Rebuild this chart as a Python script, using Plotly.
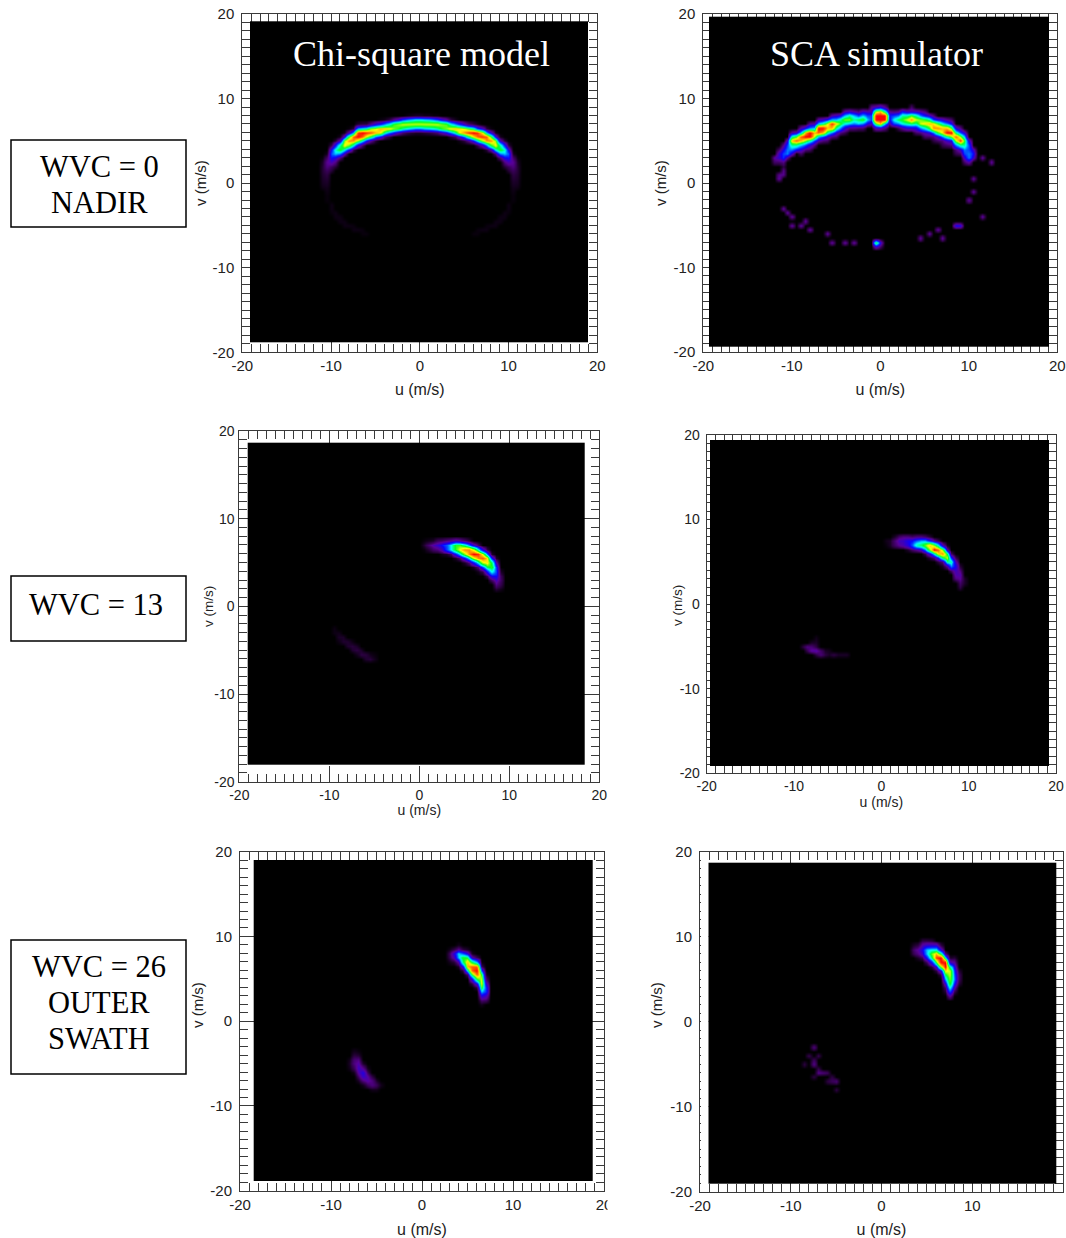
import numpy as np
import plotly.graph_objects as go

# ---------- data: (u, lowest v of the column, intensities going up in 0.5 m/s steps) ----------
TICK_VALUES = [-20, -10, 0, 10, 20]
TICK_LABELS = ["-20", "-10", "0", "10", "20"]
U_TITLE = "u (m/s)"
V_TITLE = "v (m/s)"

CHI_WVC0 = [
    (-11, -.5, [.15, .25, .3, .35, .4, .4, .3, .1]),
    (-10.5, -2, [.1, .1, .15, .2, .3, .4, .5, .7, 1, 1.2, .8, .2]),
    (-10, 1.5, [.4, .7, 1.5, 2.5, 3.2, 2.5, .6]),
    (-9.5, 2, [.4, 1, 2, 4, 4.8, 2.5, .4]),
    (-9, 3, [1, 3.5, 6, 5, 1.5, .2]),
    (-8.5, 3.5, [1.5, 4.5, 7.5, 6.5, 2, .2]),
    (-8, 4, [2.5, 6.5, 8.5, 6, 1.5, .1]),
    (-7.5, 4, [.6, 4.5, 8.5, 9, 4, .5]),
    (-7, 4.5, [2, 6.5, 10, 9.5, 4, .4]),
    (-6.5, 4.5, [.8, 4.5, 9, 10, 4.5, .5]),
    (-6, 5, [2.5, 7, 9.5, 5, .5]),
    (-5.5, 5, [1.2, 5.5, 9, 6.5, 1.2]),
    (-5, 5, [.4, 3.5, 8, 7, 2]),
    (-4.5, 5.5, [2.5, 7.5, 8, 2.5, .1]),
    (-4, 5.5, [1, 5, 8, 3.5, .2]),
    (-3.5, 5.5, [.5, 3.5, 7.5, 4.5, .5]),
    (-3, 6, [2.5, 6.5, 6, 1.2]),
    (-2.5, 6, [1.5, 6, 6.5, 1.8]),
    (-2, 6, [.9, 5, 7, 3]),
    (-1.5, 6, [.6, 4.5, 7, 3.5, .1]),
    (-1, 6, [.4, 4, 7, 4, .2]),
    (-.5, 6, [.3, 3.5, 7, 4.5, .3]),
    (0, 6, [.3, 3.5, 7, 4.5, .3]),
    (.5, 6, [.4, 4, 7, 4.2, .2]),
    (1, 6, [.5, 4.2, 7, 4, .2]),
    (1.5, 6, [.7, 4.5, 7, 3.5, .1]),
    (2, 6, [.9, 5, 7, 3, .1]),
    (2.5, 6, [1.5, 6, 6.5, 2]),
    (3, 6, [2.2, 6.5, 6.2, 1.4]),
    (3.5, 5.5, [.4, 3.5, 7.5, 4.5, .5]),
    (4, 5.5, [.8, 5, 8, 3.5, .2]),
    (4.5, 5, [.2, 2, 7.5, 7.5, 2.5]),
    (5, 5, [.5, 3.5, 8.5, 7, 1.5]),
    (5.5, 5, [1.2, 5.5, 9.5, 6, .8]),
    (6, 5, [2.5, 7.5, 10, 5, .5]),
    (6.5, 4.5, [.6, 4.5, 9, 9.5, 3, .2]),
    (7, 4.5, [1.5, 6.5, 9.5, 7.5, 2]),
    (7.5, 4, [.4, 3.5, 8.5, 9, 4, .5]),
    (8, 4, [1.5, 6, 8.5, 6, 1.8, .1]),
    (8.5, 3.5, [1, 4.5, 7.5, 6.5, 2, .2]),
    (9, 3, [1, 3.5, 6, 5, 1.5, .2]),
    (9.5, 2, [.4, 1, 2.2, 4, 4.8, 2.5, .4]),
    (10, 1.5, [.4, .7, 1.5, 2.5, 3.2, 2, .4]),
    (10.5, -2, [.1, .1, .15, .2, .3, .4, .5, .7, 1, 1.2, .8, .2]),
    (11, -.5, [.15, .25, .3, .35, .4, .4, .3, .1]),
    (-10, -3.5, [.1, .15, .15]), (-9.5, -4, [.15, .15]), (-9, -4.5, [.15, .15]),
    (-8.5, -5, [.15, .15]), (-8, -5, [.15]), (-7.5, -5.5, [.15, .1]),
    (-7, -5.5, [.15]), (-6.5, -6, [.1, .1]), (-6, -6, [.1]),
    (10, -3.5, [.1, .15, .15]), (9.5, -4, [.15, .15]), (9, -4.5, [.15, .15]),
    (8.5, -5, [.15, .15]), (8, -5, [.15]), (7.5, -5.5, [.15, .1]),
    (7, -5.5, [.15]), (6.5, -6, [.1, .1]), (6, -6, [.1]),
]

SCA_WVC0 = [
    (-1.5, 7, [2, 4, 3, 1.5]),
    (-1, 7, [1.5, 3, 3, 1.5, 1.2]),
    (-.5, 6.5, [1.5, 6, 10, 10, 7, 1.5]),
    (0, 6.5, [1.5, 8, 10, 10, 8, 2]),
    (.5, 6.5, [1, 4, 10, 10, 5, 1.2]),
    (1, 7, [1.2, 2, 2.5, 1.2]),
    (-12, 2.5, [.8, 1.3]),
    (-11.5, .5, [1.3, 1.1, 0, 0, .8, 1.8, 1.8, .8]),
    (-11, 1, [1.1, 1.1, .5, 1, 2.8, 3, 2.2, 1.2]),
    (-10.5, 3, [1.2, 3.5, 3.5, 3, 1.8]),
    (-10, 3.5, [1.8, 3.5, 5, 8, 5, 1.4]),
    (-9.5, 4, [2.5, 5, 9, 6, 1.8]),
    (-9, 3.5, [.8, 1.8, 4, 8, 9, 4, 1.4]),
    (-8.5, 4, [1, 3, 6.5, 10, 8, 2.2]),
    (-8, 4, [.8, 1.8, 5, 10, 10, 3.5, 1.2]),
    (-7.5, 4.5, [1, 3, 7, 8, 4, 1.4]),
    (-7, 5, [1.5, 4, 9, 10, 4, 1.4]),
    (-6.5, 5, [1, 3, 8, 10, 5, 1.8]),
    (-6, 5, [.8, 1.8, 5, 8, 7, 2.5]),
    (-5.5, 5.5, [1, 3.5, 8, 9.5, 4, 1.4]),
    (-5, 5.5, [.8, 1.8, 5, 7.5, 4, 1.8]),
    (-4.5, 6, [1, 3.5, 6, 5, 2.2]),
    (-4, 6, [.6, 1.8, 4.5, 6.5, 4, 1.5]),
    (-3.5, 6.5, [1, 4, 6.5, 5, 1.8]),
    (-3, 6.5, [1, 3.5, 5, 4, 1.4]),
    (-2.5, 6.5, [.8, 4, 5.5, 3, 1]),
    (-2, 6.5, [.8, 3.5, 6, 4, 1.8]),
    (1.5, 7, [3, 4.5, 3, 1]),
    (2, 6.5, [.6, 3.5, 5.5, 3.5, 1.2]),
    (2.5, 6.5, [1.2, 4.5, 6, 5, 2.5]),
    (3, 6.5, [1.8, 5, 7, 5, 1.8]),
    (3.5, 6.5, [1.8, 5.5, 8.5, 6, 1.8, .8]),
    (4, 6, [.8, 2, 5, 7, 5, 1.8]),
    (4.5, 6, [1, 3.5, 7, 6.5, 3.5, 1.4]),
    (5, 5.5, [.8, 1.5, 4.5, 7.5, 6, 2.5, 1]),
    (5.5, 5.5, [.8, 2, 6, 8, 5, 1.8]),
    (6, 5, [.5, 1, 3.5, 8.5, 7.5, 3, 1]),
    (6.5, 5, [.8, 1.8, 6, 8.5, 6, 2.2]),
    (7, 4.5, [.6, 1, 3.5, 7.5, 8, 4.5, 1.8]),
    (7.5, 4.5, [.8, 1.8, 5, 10, 8, 3.5, 1.2]),
    (8, 4.5, [1, 2.2, 6.5, 10, 6, 2.2, .8]),
    (8.5, 3.5, [.6, 1, 3.5, 7, 9, 5, 1.8]),
    (9, 3.5, [.8, 1.8, 5, 9.5, 6.5, 3, 1]),
    (9.5, 2.5, [.8, 1.8, 3, 3.5, 5, 6, 4, 1.8]),
    (10, 2.5, [1.4, 3.5, 3.5, 3, 3, 1.8]),
    (10.5, 3, [1.8, 2.4, 1.6]),
    (11.5, 3, [1.3]), (12.5, 2.5, [1.3]), (10.5, .5, [1.3]), (10.5, -1, [1.3]),
    (10, -2, [1.3]), (11.5, -4, [1.3]), (8.5, -5, [2.3]), (9, -5, [2.1]),
    (6.5, -5.5, [1.3]), (7, -6.5, [1.3]), (5.5, -6, [1.3]), (4.5, -6.5, [1.3]),
    (-11, -3, [1.3]), (-10.5, -3.5, [1.3]), (-10, -4, [1.3]), (-10, -5, [1.3]),
    (-9, -5, [1.3]), (-8.5, -4.5, [1.3]), (-8, -5.5, [1.3]), (-6, -6, [1.3]),
    (-5.5, -7, [1.3]), (-4, -7, [1.3]), (-3, -7, [1.3]),
    (-.5, -7.5, [1.8, 6]), (0, -7.5, [.8, 2]),
]

CHI_WVC13 = [
    (.5, 6.5, [.1, .4, .1]),
    (1, 6.5, [.4, .9, .2]),
    (1.5, 6.5, [.8, 1.4, .3]),
    (2, 6.5, [1, 1.8, .7]),
    (2.5, 6, [.2, 1.6, 2.5, .8]),
    (3, 6, [.3, 3, 3.2, 1]),
    (3.5, 6, [.8, 4.5, 4.5, 1.2]),
    (4, 5.5, [.3, 2.5, 6, 6, 1.5]),
    (4.5, 5.5, [1, 4.5, 7.5, 6, 1.2]),
    (5, 5, [.3, 2.5, 6.5, 8.5, 5, .8]),
    (5.5, 5, [1, 4.5, 8.5, 8.5, 3.5, .4]),
    (6, 4.5, [.3, 2.5, 7, 10, 7, 1.8]),
    (6.5, 4, [.2, 1, 4.5, 8.5, 9.5, 4.5, .8]),
    (7, 4, [.6, 3, 7, 9, 7, 2]),
    (7.5, 3.5, [.6, 2.5, 5.5, 7.5, 7.5, 3.5, .5]),
    (8, 3, [.8, 2.2, 4.5, 6, 5.5, 2.5, .3]),
    (8.5, 2, [.4, 1, 1.6, 2.4, 3, 2.8, 1.4, .3]),
    (9, 2, [.2, .6, .8, .7, .3]),
    (-9.5, -3, [.15, .15]), (-9, -4, [.15, .3, .2]), (-8.5, -4, [.35, .3]),
    (-8, -4.5, [.35, .35]), (-7.5, -5, [.35, .45, .15]), (-7, -5.5, [.2, .5, .3]),
    (-6.5, -5.5, [.5, .3]), (-6, -6, [.35, .45]), (-5.5, -6, [.45, .2]), (-5, -6, [.2, .1]),
]

SCA_WVC13 = [
    (.5, 7, [.1, .2]), (1, 7, [.3, .3]), (1.5, 7, [.8, .9, .3]),
    (2, 7, [1.2, 1.6, .8]), (2.5, 7, [1.5, 1.7, 1]),
    (3, 6.5, [.3, 2, 2.2, 1]), (3.5, 6.5, [.8, 3.2, 2.4, .8]),
    (4, 6.5, [1.2, 5, 3.2, 1]), (4.5, 6.5, [1.8, 5.5, 3.8, 1]),
    (5, 6, [.6, 3.5, 6.5, 3.8, .8]), (5.5, 5.5, [.4, 2, 6.5, 8, 2.5, .4]),
    (6, 5.5, [1, 4.5, 10, 6.5, 1.2]), (6.5, 5, [.5, 2.5, 7.5, 9, 4.5, .6]),
    (7, 4.5, [.3, 1, 5.5, 8.5, 6.5, 1.5]), (7.5, 4.5, [1.2, 5, 7, 5.5, 1.5, .2]),
    (8, 4, [.8, 3.5, 5, 2.8, .8]), (8.5, 3, [1, 1.4, 1.6, 2.2, 1.5, .6]),
    (9, 2, [.5, .8, 1.2, 1.4, 1, .4]), (9.5, 2.5, [.3, .3]),
    (-9, -5, [.5]), (-8.5, -5.5, [.6, 1]), (-8, -5.5, [1.3, .9, .3]),
    (-7.5, -6, [.5, 1.4, .5]), (-7, -6, [.9, .8]), (-6.5, -6, [.5, .3]),
    (-6, -6, [.3, .2]), (-5.5, -6, [.5]), (-5, -6, [.3]), (-4.5, -6, [.3]),
    (-4, -6, [.3]), (-7.5, -4.5, [.3, .2]),
]

CHI_WVC26 = [
    (3, 7, [.2, .6, .7, .2]),
    (3.5, 7, [.4, 1.5, 2, .6]),
    (4, 6.5, [.3, 1.4, 4, 4.2, 1.2, .2]),
    (4.5, 6, [.5, 2.2, 5.5, 6, 3.2, .5]),
    (5, 5.5, [.8, 4.5, 8, 8, 5.5, 2, .3]),
    (5.5, 4.5, [.5, 2.2, 6, 9, 9, 5.5, 1.4, .2]),
    (6, 4, [.5, 2.2, 6, 9, 10, 9, 3.8, .6]),
    (6.5, 2, [.2, .8, 2, 4, 6, 7.5, 7, 5.8, 3, .7, .1]),
    (7, 2.5, [.7, 1.6, 2.8, 2.8, 1.8, .8, .2]),
    (-8, -5.5, [.2, .3, .2]),
    (-7.5, -6, [.2, .7, 1, .9, .5, .2]),
    (-7, -7, [.3, .8, 1.4, 1.7, 1.4, 1, .4, .1]),
    (-6.5, -7.5, [.2, 1, 1.8, 2.1, 1.1, .3]),
    (-6, -7.5, [.7, 1.4, 1.3, .7, .2]),
    (-5.5, -8, [.2, 1, 1, .5]),
    (-5, -8, [.2, .7, .3]),
    (-4.5, -7.5, [.2]),
]

SCA_WVC26 = [
    (3.5, 8, [.6, .8, .3]),
    (4, 7.5, [.3, 1, 1.3, .5]),
    (4.5, 7.5, [.7, 1.8, 2.2, 1.4, .5]),
    (5, 7, [.7, 2.5, 4, 4, 1.8, .5]),
    (5.5, 6.5, [.5, 2.5, 5.5, 6.5, 4.5, 1.8, .4]),
    (6, 6, [.5, 2, 6, 9.5, 8, 4.5, 1.8]),
    (6.5, 5.5, [.5, 2, 6.5, 10, 10, 5.5, 1.8, .5]),
    (7, 3.5, [.4, .8, 1.8, 3.8, 5.5, 7.5, 10, 10, 4.5, 1]),
    (7.5, 3, [1.2, 3, 4.5, 6, 6.5, 7, 7, 5, 1.5, .3]),
    (8, 3.5, [.6, 1.4, 2.5, 3.5, 3.2, 2.8, 2.2, 1.2, .4]),
    (8.5, 4.5, [.4, .7, .7, .4]),
    (-7.5, -3, [1]), (-8, -4, [.6]), (-7, -4, [.6]), (-7.5, -5, [1.1, .7]),
    (-8.5, -5, [.5]), (-7.5, -6.5, [.5]), (-7, -6, [1.1, .6]), (-6.5, -6, [.9]),
    (-6, -6, [.7]), (-5.5, -7, [.7, .5]), (-5, -7, [.9]), (-5, -8, [.5]), (-6, -7, [.5]),
]

PANEL_DATA = [CHI_WVC0, SCA_WVC0, CHI_WVC13, SCA_WVC13, CHI_WVC26, SCA_WVC26]

BOX_LINES = [["WVC = 0", "NADIR"], ["WVC = 13"], ["WVC = 26", "OUTER", "SWATH"]]
COLUMN_TITLES = ["Chi-square model", "SCA simulator"]

# ---------- layout in page pixels ----------
W, H = 1066, 1238
LAYOUT = [
    dict(frame=(242.3, 597.3, 14.0, 352.3), image=(250.0, 588.3, 21.3, 342.7), xstand=10, ylabel=(200, 183),
         tick=15, xt=16, yt=15, gap=4),
    dict(frame=(703.3, 1057.3, 14.0, 352.0), image=(709.0, 1048.7, 16.7, 347.0), xstand=10, ylabel=(660, 183),
         tick=15, xt=16, yt=15, gap=4),
    dict(frame=(239.3, 599.3, 431.0, 781.7), image=(247.7, 585.0, 442.7, 765.0), xstand=3, ylabel=(208, 607),
         tick=14, xt=14, yt=13.5, gap=1),
    dict(frame=(706.7, 1056.0, 435.0, 773.3), image=(710.0, 1048.7, 440.0, 765.7), xstand=2, ylabel=(677, 606),
         tick=14, xt=14, yt=13.5, gap=3),
    dict(frame=(240.0, 604.0, 851.7, 1190.7), image=(253.7, 592.3, 860.0, 1180.7), xstand=14, ylabel=(197, 1005),
         tick=15, xt=16, yt=15, gap=4),
    dict(frame=(700.0, 1063.0, 851.7, 1191.7), image=(708.3, 1056.0, 862.7, 1184.0), xstand=15, ylabel=(656, 1005),
         tick=15, xt=16, yt=15, gap=4),
]
COLORSCALE = [
    [0.00, "#000000"], [0.05, "#2c0042"], [0.12, "#5a0096"], [0.24, "#0a00ff"],
    [0.33, "#0060ff"], [0.44, "#00ffff"], [0.58, "#00ff20"], [0.73, "#ffff00"],
    [0.86, "#ff8000"], [1.00, "#ff0000"],
]
INK = "#3a3a3a"
SANS = "Liberation Sans, Arial, sans-serif"
TEXT = "#222222"
SERIF = "Liberation Serif, Times New Roman, serif"

GRID_U0, GRID_V0, STEP = -14.0, -10.0, 0.5
NU, NV = 57, 45


def to_grid(columns):
    z = np.zeros((NV, NU))
    for u, v0, values in columns:
        i = int(round((u - GRID_U0) / STEP))
        for k, val in enumerate(values):
            j = int(round((v0 + k * STEP - GRID_V0) / STEP))
            z[j, i] = max(z[j, i], val)
    return z


fig = go.Figure()
layout_axes = {}
shapes, annotations = [], []


def paper_text(text, x_px, y_px, font, **kw):
    annotations.append(dict(text=text, x=x_px / W, y=1 - y_px / H, xref="paper", yref="paper",
                            showarrow=False, font=font, xanchor="center", yanchor="middle", **kw))


for n, (columns, p) in enumerate(zip(PANEL_DATA, LAYOUT), start=1):
    fl, fr, ft, fb = p["frame"]
    il, ir, it, ib = p["image"]
    suffix = "" if n == 1 else str(n)
    x_name, y_name = f"x{suffix}", f"y{suffix}"
    to_u = lambda px: (px - fl) / (fr - fl) * 40 - 20
    to_v = lambda py: (fb - py) / (fb - ft) * 40 - 20
    uL, uR, vB, vT = to_u(il), to_u(ir), to_v(ib), to_v(it)

    # solid black image area
    fig.add_trace(go.Heatmap(
        z=[[0]], x0=(uL + uR) / 2, dx=uR - uL, y0=(vB + vT) / 2, dy=vT - vB,
        xaxis=x_name, yaxis=y_name, colorscale=COLORSCALE, zmin=0, zmax=10,
        showscale=False, hoverinfo="skip"))
    # density
    fig.add_trace(go.Heatmap(
        z=to_grid(columns).tolist(), x0=GRID_U0, dx=STEP, y0=GRID_V0, dy=STEP,
        xaxis=x_name, yaxis=y_name, colorscale=COLORSCALE, zmin=0, zmax=10,
        zsmooth="best", showscale=False))

    common = dict(
        range=[-20, 20], tickmode="array", tickvals=TICK_VALUES, ticktext=TICK_LABELS,
        ticks="inside", ticklen=16, tickwidth=1, tickcolor=INK,
        minor=dict(ticks="inside", dtick=1, ticklen=8, tickwidth=1, tickcolor=INK, showgrid=False),
        showline=True, linecolor=INK, linewidth=1, mirror="ticks", showgrid=False,
        zeroline=False, tickfont=dict(family=SANS, size=p["tick"], color=TEXT),
        layer="below traces", automargin=False,
    )
    layout_axes[f"xaxis{suffix}"] = dict(
        common, domain=[fl / W, fr / W], anchor=y_name,
        title=dict(text=U_TITLE, font=dict(family=SANS, size=p["xt"], color=TEXT), standoff=p["xstand"]))
    layout_axes[f"yaxis{suffix}"] = dict(
        common, domain=[1 - fb / H, 1 - ft / H], anchor=x_name, ticklabelstandoff=p["gap"])
    paper_text(V_TITLE, p["ylabel"][0], p["ylabel"][1],
               dict(family=SANS, size=p["yt"], color=TEXT), textangle=-90)

# column headings
for text, x_px in zip(COLUMN_TITLES, (421, 876)):
    paper_text(text, x_px, 54, dict(family=SERIF, size=36, color="white"))

# row boxes with their text lines
BOX_SPANS = [(140, 227), (576, 641), (940, 1074)]
BOX_LINE_Y = [[167, 203], [605], [967, 1003, 1039]]
BOX_LINE_X = [99, 96, 99]
for lines, ys, x_px, (top, bottom) in zip(BOX_LINES, BOX_LINE_Y, BOX_LINE_X, BOX_SPANS):
    shapes.append(dict(type="rect", xref="paper", yref="paper", x0=11 / W, x1=186 / W,
                       y0=1 - bottom / H, y1=1 - top / H, line=dict(color="black", width=1.5),
                       fillcolor="white", layer="above"))
    for line, y_px in zip(lines, ys):
        paper_text(line, x_px, y_px, dict(family=SERIF, size=30.5, color="black"))

# white patches: image crop beside the bottom-left panel, and the tickless left band of the bottom-right panel
for x0, x1, y0, y1 in [(607.5, 640, 1194, 1214), (701, 708.3, 853, 1191)]:
    shapes.append(dict(type="rect", xref="paper", yref="paper", x0=x0 / W, x1=x1 / W,
                       y0=1 - y1 / H, y1=1 - y0 / H, line=dict(width=0), fillcolor="white", layer="above"))

fig.update_layout(
    width=W, height=H, autosize=False, margin=dict(l=0, r=0, t=0, b=0),
    paper_bgcolor="white", plot_bgcolor="white", showlegend=False,
    shapes=shapes, annotations=annotations, **layout_axes)

fig.write_html("out.html", config=dict(displayModeBar=False),
               post_script="document.body.style.margin='0';document.body.style.overflow='hidden';")
